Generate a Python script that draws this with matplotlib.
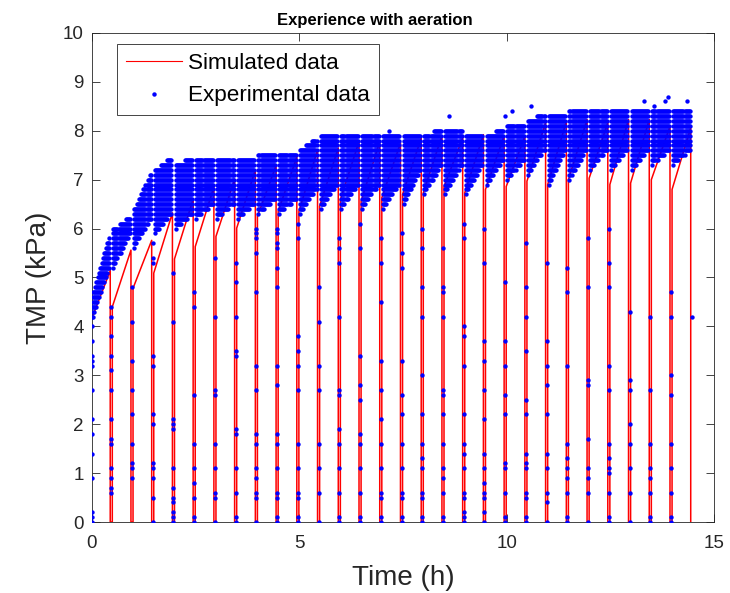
import numpy as np
import matplotlib
matplotlib.use("Agg")
import matplotlib.pyplot as plt

plt.rcParams['font.family'] = ['Liberation Sans', 'DejaVu Sans']

# ---------------- data ----------------
# backwash instants (h)
backwash_t = [0.44, 0.94, 1.44, 1.94, 2.44, 2.94, 3.44, 3.94, 4.44, 4.94,
              5.44, 5.94, 6.44, 6.94, 7.44, 7.94, 8.44, 8.94, 9.44, 9.94,
              10.44, 10.94, 11.44, 11.94, 12.44, 12.94, 13.44, 13.94, 14.44]
# simulated TMP at start / end of every filtration cycle (kPa)
sim_start = [4.17, 4.40, 4.78, 5.09, 5.38, 5.63, 5.84, 6.01, 6.25, 6.35,
             6.35, 6.46, 6.59, 6.56, 6.63, 6.70, 6.73, 6.86, 6.73, 6.80,
             6.86, 6.97, 6.90, 7.00, 7.03, 6.90, 6.93, 7.00, 6.80]
sim_end = [5.14, 5.56, 5.76, 6.32, 6.60, 6.85, 7.01, 7.20, 7.29, 7.46,
           7.61, 7.65, 7.78, 7.78, 7.75, 7.85, 7.90, 7.85, 7.92, 7.90,
           7.89, 8.16, 8.19, 8.23, 8.16, 8.23, 8.23, 8.09, 8.06]

# experimental band per cycle: lower / upper edge at cycle start and end (kPa)
exp_lo0 = [4.2, 5.2, 5.6, 5.9, 6.0, 6.2, 6.2, 6.2, 6.3, 6.3,
           6.3, 6.4, 6.4, 6.4, 6.4, 6.5, 6.7, 6.7, 6.7, 6.9,
           7.0, 7.1, 6.9, 7.0, 7.2, 7.2, 7.2, 7.3, 7.3]
exp_lo1 = [5.2, 5.9, 6.2, 6.3, 6.3, 6.5, 6.5, 6.5, 6.6, 6.6,
           6.8, 6.9, 6.9, 6.9, 6.9, 7.2, 7.3, 7.3, 7.3, 7.4,
           7.4, 7.6, 7.6, 7.6, 7.6, 7.6, 7.6, 7.6, 7.6]
exp_hi0 = [4.7, 6.0, 6.4, 7.2, 7.3, 7.4, 7.4, 7.4, 7.5, 7.5,
           7.6, 7.9, 7.9, 7.9, 7.9, 7.9, 7.9, 8.0, 7.9, 7.9,
           8.1, 8.2, 8.3, 8.4, 8.4, 8.4, 8.4, 8.4, 8.4]
exp_hi1 = [5.9, 6.3, 7.2, 7.5, 7.5, 7.5, 7.5, 7.5, 7.6, 7.6,
           7.9, 7.9, 7.9, 7.9, 7.9, 7.9, 8.1, 8.0, 7.9, 8.1,
           8.2, 8.4, 8.4, 8.4, 8.4, 8.4, 8.4, 8.4, 8.4]

# isolated high readings above the band (h, kPa)
outlier_t = [7.16, 8.60, 9.95, 10.12, 10.60, 13.31, 13.55, 13.82, 13.90, 14.35]
outlier_v = [8.0, 8.3, 8.3, 8.4, 8.5, 8.6, 8.5, 8.6, 8.7, 8.6]

# transient points recorded along each backwash (kPa)
startup_pts = [0, 0.1, 0.2, 0.9, 1.4, 1.8, 2.1, 2.7, 3.2, 3.3, 3.4, 3.7, 4.0, 4.2, 4.4]
backwash_pts = [
    [4.4, 4.2, 3.8, 3.4, 3.1, 2.7, 2.1, 1.7, 1.6, 1.1, 0.9, 0.7, 0.6],
    [4.8, 4.1, 3.3, 2.7, 2.2, 1.6, 1.2, 1.1, 0.9],
    [5.7, 5.4, 5.3, 3.4, 3.2, 2.2, 2.0, 1.2, 1.1, 0.9, 0.5, 0],
    [5.1, 4.1, 2.1, 2.0, 1.9, 1.1, 0.7, 0.5, 0.4, 0.2, 0.1, 0],
    [4.7, 4.4, 2.6, 1.6, 1.1, 0.8, 0.5, 0.1, 0],
    [5.4, 4.2, 2.7, 2.6, 1.6, 1.1, 0.6, 0.5, 0],
    [5.3, 4.9, 4.2, 3.5, 3.4, 1.9, 1.8, 1.1, 0.6, 0.1, 0],
    [6.0, 5.9, 5.8, 5.5, 4.7, 3.2, 2.7, 1.8, 1.6, 1.1, 0.9, 0.6, 0.5, 0],
    [6.0, 5.9, 5.7, 5.6, 5.2, 4.8, 3.2, 2.8, 1.8, 1.6, 1.1, 0.6, 0.5, 0.1, 0],
    [6.1, 5.8, 3.8, 3.5, 3.2, 2.7, 1.6, 1.1, 0.6, 0.5, 0.1, 0],
    [4.8, 4.1, 3.2, 2.7, 1.6, 1.1, 0.6, 0],
    [5.8, 5.6, 5.3, 4.2, 2.7, 2.6, 1.9, 1.6, 1.1, 0.6, 0.1, 0],
    [6.1, 5.6, 3.4, 2.8, 2.5, 1.8, 1.6, 1.1, 0.6, 0.1, 0],
    [5.8, 5.3, 4.5, 3.3, 2.7, 2.1, 1.6, 1.1, 0.6, 0.5, 0.1, 0],
    [5.9, 5.5, 5.2, 3.3, 2.6, 2.2, 1.6, 1.1, 0.6, 0.5, 0.1, 0],
    [6.0, 5.6, 4.8, 4.2, 3.0, 2.2, 1.6, 1.3, 1.1, 0.6, 0.5, 0.1, 0],
    [5.6, 4.8, 4.7, 4.2, 2.7, 2.6, 2.2, 1.6, 1.1, 0.9, 0.6, 0.1, 0],
    [6.1, 5.8, 4.0, 3.8, 3.2, 2.2, 1.6, 1.4, 1.1, 0.6, 0.5, 0.2, 0.1, 0],
    [6.0, 5.3, 3.7, 3.3, 2.7, 2.1, 1.4, 1.1, 0.8, 0.6, 0.5, 0.2, 0],
    [4.9, 3.7, 3.2, 2.6, 2.2, 1.2, 1.1, 0.6, 0.1, 0],
    [5.7, 4.8, 4.2, 3.5, 2.5, 2.2, 1.4, 1.2, 1.1, 0.6, 0.5, 0.1, 0],
    [5.3, 3.7, 3.2, 2.8, 2.2, 1.4, 1.1, 0.6, 0.4, 0],
    [5.2, 4.7, 3.2, 1.6, 1.3, 1.1, 0.9, 0.6, 0.1, 0],
    [5.8, 4.8, 2.9, 2.8, 1.7, 1.1, 0.9, 0.6, 0],
    [6.0, 5.3, 4.8, 3.2, 2.7, 1.6, 1.3, 1.1, 1.0, 0.6, 0.1, 0],
    [4.3, 2.9, 2.7, 2.0, 1.6, 1.1, 0.6, 0],
    [4.2, 2.7, 1.6, 1.1, 0.9, 0.6, 0.1, 0],
    [4.7, 4.2, 3.0, 2.6, 1.6, 1.1, 0.6, 0.1, 0],
    [4.2],
]

# ---------------- build series ----------------
gap = 0.05         # duration of the backwash (h)
dt = 0.025         # sampling step of the experimental record (h)
q = 0.1            # sensor resolution (kPa)

sim_t, sim_v = [], []
n = len(backwash_t)
for k in range(n):
    t0 = 0.0 if k == 0 else backwash_t[k - 1] + gap
    tb = backwash_t[k]
    sim_t += [t0, tb, tb]
    sim_v += [sim_start[k], sim_end[k], 0.0]
    if k < n - 1:
        sim_t += [tb + gap]
        sim_v += [0.0]

exp_t, exp_v = [], []
for k in range(n):
    t0 = 0.02 if k == 0 else backwash_t[k - 1] + gap + dt
    tb = backwash_t[k] - 0.01
    for t in np.arange(t0, tb, dt):
        f = (t - t0) / (tb - t0)
        lo = exp_lo0[k] + (exp_lo1[k] - exp_lo0[k]) * f
        hi = exp_hi0[k] + (exp_hi1[k] - exp_hi0[k]) * f
        for m in range(int(np.ceil(lo / q - 1e-6)), int(np.floor(hi / q + 1e-6)) + 1):
            exp_t.append(t)
            exp_v.append(m * q)
exp_t += outlier_t
exp_v += outlier_v
for v in startup_pts:
    exp_t.append(0.0)
    exp_v.append(v)
for k, pts in enumerate(backwash_pts):
    for v in pts:
        exp_t.append(backwash_t[k] + gap / 2)
        exp_v.append(v)

# ---------------- draw ----------------
fig = plt.figure(figsize=(7.30, 5.93), dpi=100)
ax = fig.add_axes([0.126, 0.1197, 0.852, 0.8247])

ax.plot(sim_t, sim_v, color='red', lw=1.1, label='Simulated data', zorder=2)
ax.plot(exp_t, exp_v, linestyle='none', marker='o', ms=3.15, mew=0,
        color='blue', label='Experimental data', zorder=3)

ax.set_xlim(0, 15)
ax.set_ylim(0, 10)
ax.set_xticks([0, 5, 10, 15])
ax.set_yticks(range(0, 11))
dark = '#262626'
ax.tick_params(direction='in', top=True, right=True, length=6, width=0.6,
               colors=dark, labelsize=13.5)
ax.tick_params(axis='x', pad=9)
ax.tick_params(axis='y', pad=6)
for s in ax.spines.values():
    s.set_color(dark)
    s.set_linewidth(0.6)

ax.set_xlabel('Time (h)', fontsize=20, color=dark, labelpad=10)
ax.set_ylabel('TMP (kPa)', fontsize=20, color=dark, labelpad=8)
ax.set_title('Experience with aeration', fontsize=12, fontweight='bold',
             color='black', pad=6, x=0.455)

leg = ax.legend(loc='upper left', bbox_to_anchor=(0.040, 0.977), fontsize=16.2,
                frameon=True, fancybox=False, edgecolor=dark, framealpha=1,
                handlelength=2.5, borderpad=0.4, labelspacing=0.5,
                handletextpad=0.25, borderaxespad=0)
leg.get_frame().set_linewidth(0.6)
leg.legend_handles[0].set_linewidth(0.8)
leg.legend_handles[1].set_markersize(3.2)

fig.savefig('out.png', dpi=100)
